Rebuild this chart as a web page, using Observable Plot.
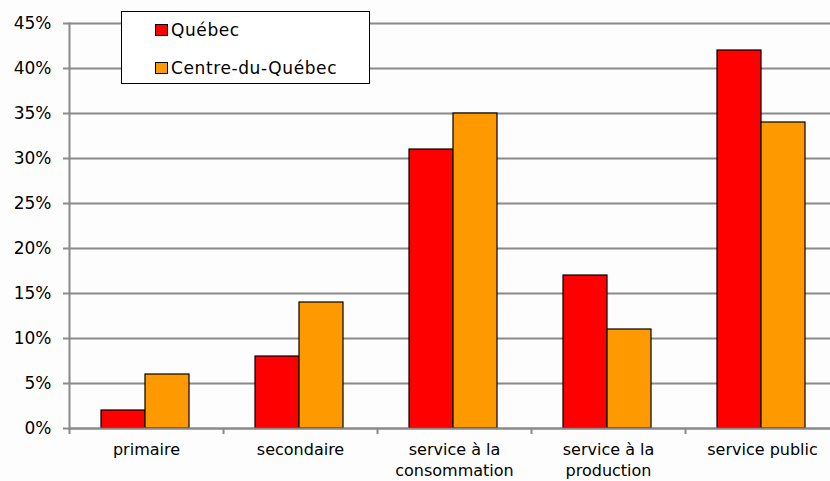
<!DOCTYPE html>
<html>
<head>
<meta charset="utf-8">
<script src="https://cdn.jsdelivr.net/npm/d3@7"></script>
<script src="https://cdn.jsdelivr.net/npm/@observablehq/plot@0.6"></script>
<style>
  html, body { margin: 0; padding: 0; background: #fdfdfd; overflow: hidden; }
  #wrap { position: relative; width: 830px; height: 481px; overflow: hidden; font-family: "DejaVu Sans", sans-serif; }
  #wrap svg { max-width: none !important; }
  #legend { position: absolute; left: 121px; top: 11px; width: 247px; height: 71px; border: 1px solid #000; background: #fff; }
  .item { position: absolute; left: 33px; display: flex; align-items: center; font-size: 17px; letter-spacing: 0.6px; color: #000; line-height: 20px; }
  .sw { width: 11px; height: 10px; border: 1px solid #000; margin-right: 3px; }
</style>
</head>
<body>
<div id="wrap"></div>
<script>
const categories = ["primaire", "secondaire", "service à la\nconsommation", "service à la\nproduction", "service public"];
const series = ["Québec", "Centre-du-Québec"];
const quebec = [2, 8, 31, 17, 42];
const centre = [6, 14, 35, 11, 34];
const colors = ["#ff0000", "#ff9900"];
const yTicks = [0, 5, 10, 15, 20, 25, 30, 35, 40, 45];

const rowsQ = categories.map((c, i) => ({category: c, series: series[0], value: quebec[i]}));
const rowsC = categories.map((c, i) => ({category: c, series: series[1], value: centre[i]}));

const chart = Plot.plot({
  width: 840,
  height: 481,
  marginLeft: 69,
  marginRight: 1,
  marginTop: 23,
  marginBottom: 53,
  style: {fontFamily: "DejaVu Sans, sans-serif", fontSize: "16px", color: "#000", background: "transparent", maxWidth: "none"},
  x: {domain: categories, padding: 0, label: null},
  y: {domain: [0, 45], label: null},
  color: {domain: series, range: colors},
  marks: [
    Plot.gridY(yTicks, {stroke: "#8a8a8a", strokeWidth: 2, strokeOpacity: 1}),
    Plot.barY(rowsQ, {x: "category", y: "value", fill: "series", stroke: "#000", strokeWidth: 1.2, insetLeft: 32, insetRight: 78}),
    Plot.barY(rowsC, {x: "category", y: "value", fill: "series", stroke: "#000", strokeWidth: 1.2, insetLeft: 76, insetRight: 34}),
    Plot.ruleY([0], {stroke: "#8a8a8a", strokeWidth: 2}),
    Plot.frame({anchor: "left", stroke: "#8a8a8a", strokeWidth: 2}),
    Plot.axisY(yTicks, {tickSize: 6, tickPadding: 12, tickFormat: d => d + "%", stroke: "#8a8a8a", strokeWidth: 2, fontSize: 17, style: {letterSpacing: "0.8px"}}),
    Plot.axisX({tickSize: 6, tickFormat: () => "", dx: -77, stroke: "#8a8a8a", strokeWidth: 2}),
    Plot.axisX({tickSize: 0, tickPadding: 12, fontSize: 16, lineHeight: 1.3})
  ]
});

const wrap = document.getElementById("wrap");
wrap.appendChild(chart);

const legend = document.createElement("div");
legend.id = "legend";
series.forEach((s, i) => {
  const it = document.createElement("div");
  it.className = "item";
  it.style.top = (i === 0 ? 8 : 46) + "px";
  const sw = document.createElement("div");
  sw.className = "sw";
  sw.style.background = colors[i];
  const t = document.createElement("span");
  t.textContent = s;
  it.appendChild(sw);
  it.appendChild(t);
  legend.appendChild(it);
});
wrap.appendChild(legend);
</script>
</body>
</html>
